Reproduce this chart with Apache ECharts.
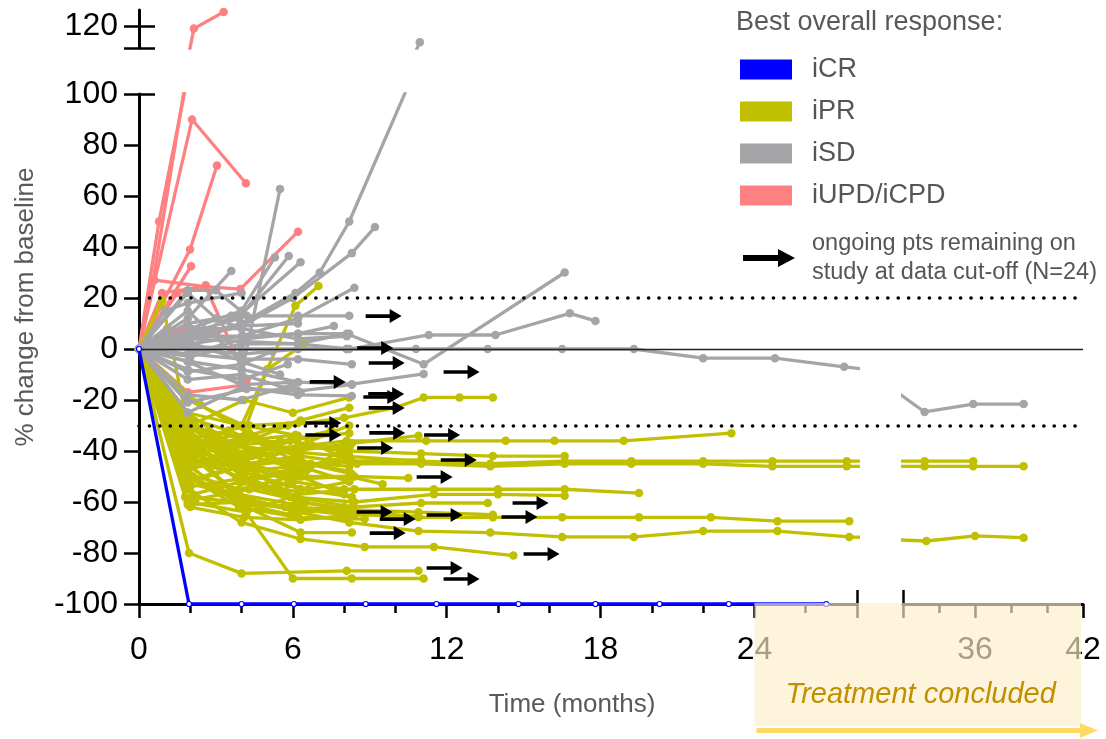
<!DOCTYPE html>
<html><head><meta charset="utf-8">
<script src="https://cdn.jsdelivr.net/npm/echarts@6/dist/echarts.min.js"></script>
<style>html,body{margin:0;padding:0;background:#fff}#c{width:1106px;height:739px}</style>
</head><body><div id="c"></div>
<script>
const SANS = "'Liberation Sans',Arial,sans-serif";

const categories = ['iCR', 'iPR', 'iSD', 'iUPD/iCPD'];
const ARROW_NAME = 'ongoing pts remaining on\nstudy at data cut-off (N=24)';
const xLabelsLeft = [0, 6, 12, 18, 24];
const xMajorLeft = [0, 6, 12, 18, 24, 28];
const xMinorLeft = [2, 4, 8, 10, 14, 16, 20, 22, 26];
const xLabelsRight = [36, 42];
const xMajorRight = [32, 36, 42];
const xMinorRight = [34, 38, 40];
const yTopLabels = [120];
const refDotted = [20, -30];

const iCR = [
  [[0,0],[1.95,-100],[4,-100],[6.04,-100],[8.84,-100],[11.6,-100],[14.8,-100],[17.8,-100],[20.3,-100],[23,-100],[26.8,-100]]
];
const iUPD = [
  [[0,0],[0.78,50],[2.14,119],[3.3,125.5]],
  [[0,0],[0.55,27],[1.85,107]],
  [[0,0],[2.07,90],[4.17,65]],
  [[0,0],[1.99,39],[3.04,72]],
  [[0,0],[2.03,32.5]],
  [[0,0],[0.6,27],[2.6,24.5],[3.95,23.5],[6.2,46]],
  [[0,0],[1.5,22],[2.6,25]],
  [[0,0],[1.9,8.5],[3.05,7]],
  [[0,0],[1.1,8],[2.0,5]],
  [[0,0],[0.9,22],[2.6,24.5],[4.2,-12]],
  [[0,0],[1.9,-17],[4.2,-14]],
  [[0,0],[1.8,-36]]
];
const iSD = [
  [[0,0],[2,5],[4,10],[6.1,22],[7.05,30],[8.2,50],[10.95,113.7]],
  [[0,0],[2,4],[4,9],[6,20],[8.3,37.6],[9.2,47.8]],
  [[0,0],[1.9,3],[4.1,-5],[5.5,62.7]],
  [[0,0],[1.9,12],[3.6,30.6]],
  [[0,0],[1.9,6],[3.9,12],[5.84,36.5]],
  [[0,0],[2,5],[4,14],[6.3,34]],
  [[0,0],[2,8],[4,15],[5.3,36]],
  [[0,0],[2,2],[4,5],[6.2,12],[8.4,24]],
  [[0,0],[1.9,10],[3.6,13],[6.2,13],[8.2,13]],
  [[0,0],[2,1],[4,0],[6.2,0],[8.1,0],[10.8,0],[13.6,0],[16.5,0],[19.3,0],[22,-3.6],[24.8,-3.6],[27.5,-7],[30.3,-10],[33.2,-24.7],[35.9,-21.6],[38.7,-21.6]],
  [[0,0],[2,-3],[4,2],[6.2,2],[8.1,6],[11.1,-6],[16.6,30]],
  [[0,0],[2,4],[4,3],[6.2,2],[8.2,0],[11.3,5.5],[13.9,5.5],[16.8,14],[17.8,11]],
  [[0,0],[2,-5],[4,-8],[6.2,-13],[8.3,-13.8],[11.1,-9.8]],
  [[0,0],[1.9,-25],[4,-15],[6.2,-18],[8.3,-18.4]],
  [[0,0],[1.9,-21],[4.2,-15.7],[6.2,-16.5],[8.3,-14]],
  [[0,0],[2,-2],[4,-4],[6.2,-4],[8.3,-6]],
  [[0,0],[2,8],[4,8],[6.2,4],[8.1,5]],
  [[0,0],[1.9,-12],[4,-10],[6.3,-17]],
  [[0,0],[1.9,15],[4,-5],[5.5,-10]],
  [[0,0],[1.9,22],[3.0,12],[4.0,8]],
  [[0,0],[1.9,-8],[4,-12],[5.8,-6]],
  [[0,0],[2,5],[4.1,5],[6.2,6],[8.2,6]],
  [[0,0],[1,15],[1.9,18],[4,22]],
  [[0,0],[2,0],[4,-2],[6.2,0],[8.1,0]],
  [[0,0],[1.9,-5],[4,-14],[6.2,-13]],
  [[0,0],[1.9,-18],[4,-20],[6,-14]],
  [[0,0],[1.9,23],[3.0,23],[4.2,13]],
  [[0,0],[1.9,4],[3.9,9],[6.2,10]],
  [[0,0],[1.9,-2],[4.1,4],[6.2,6],[7.6,9]],
  [[0,0],[1.9,-9],[4,-6],[5.2,-1]]
];
const iPR = [
  [[0,0],[1.95,-80],[4.0,-88],[8.1,-87],[10.9,-87]],
  [[0,0],[1.9,-45],[4.1,-63],[6.0,-90],[8.3,-90],[11.1,-90]],
  [[0,0],[1.9,-55],[4,-68],[6.3,-74.5],[8.8,-77.6],[11.5,-77.6],[14.6,-81]],
  [[0,0],[2.1,-50],[4.2,-62],[6.3,-72],[8.3,-72]],
  [[0,0],[1.9,-40],[4,-58],[6.2,-64],[8.2,-68],[10.9,-71.4],[13.7,-72],[16.5,-73.7],[19.3,-73.7],[22,-71.4],[24.9,-71.4],[27.7,-73.7],[33.3,-75.3],[36,-73.3],[38.7,-74]],
  [[0,0],[1.9,-38],[4,-52],[6.2,-60],[8.3,-63],[10.9,-66],[13.8,-66],[16.5,-66],[19.5,-66],[22.3,-66],[24.9,-67.5],[27.7,-67.5]],
  [[0,0],[1.8,-35],[4.1,-50],[6.1,-58],[8.3,-62],[11,-60.4],[13.6,-60.4]],
  [[0,0],[2.0,-30],[3.8,-45],[6.0,-52],[8.0,-55],[11.5,-55],[14,-55],[16.6,-55],[19.5,-56.5]],
  [[0,0],[1.7,-42],[3.9,-50],[5.9,-58],[8.4,-60],[11.5,-57],[14,-57],[16.6,-57.5]],
  [[0,0],[2.2,-30],[4.3,-40],[6.4,-38],[8.1,-36],[11.2,-36],[14.3,-36],[16.2,-36],[18.9,-36],[23.1,-33]],
  [[0,0],[1.9,-25],[3.7,-38],[5.6,-40],[8.0,-42],[11,-44],[13.7,-45],[16.6,-44],[19.2,-44],[22,-44],[24.7,-44],[27.6,-44],[33.2,-44],[35.9,-44]],
  [[0,0],[2.1,-35],[4.2,-45],[6.3,-42],[8.5,-45],[11,-45],[13.7,-46],[16.6,-45],[19.2,-45],[22,-45],[24.7,-46],[27.6,-46],[33.2,-46],[35.9,-46],[38.7,-46]],
  [[0,0],[1.8,-35],[3.8,-38],[5.8,-30],[8.0,-27],[10,-23],[11.1,-19],[12.5,-19],[13.8,-19]],
  [[0,0],[2.0,-30],[4.1,-20],[6.0,-25],[8.2,-19]],
  [[0,0],[1.9,-40],[3.9,-35],[6.3,-28],[8.2,-23]],
  [[0,0],[1.9,-25],[4,-30],[5,-8],[6.1,17],[7.0,24.7]],
  [[0,0],[1.9,-30],[4,-35],[5,-8],[6.45,2]],
  [[0,0],[0.9,19],[1.9,-30],[4,-45],[6,-50]],
  [[0,0],[2.3,-36],[4.4,-42],[6.5,-48],[8.2,-38]],
  [[0,0],[1.9,-49],[3.9,-55],[6.0,-50],[8.4,-50],[10.5,-50.6]],
  [[0,0],[2.0,-54],[4.5,-50],[6.6,-55],[8.2,-52]],
  [[0,0],[1.9,-61],[4.0,-60],[6.2,-62],[8.2,-64]],
  [[0,0],[2.0,-62],[4.1,-66],[6.3,-67],[8.4,-65],[10.9,-65.5]],
  [[0,0],[1.8,-45],[3.7,-58],[5.7,-62],[8.2,-63],[10.9,-64],[13.8,-65]],
  [[0,0],[2.2,-35],[4.3,-30],[6.2,-29]],
  [[0,0],[1.9,-40],[4.1,-36],[6.1,-33.7]],
  [[0,0],[1.7,-28],[3.6,-38],[5.5,-36],[8.2,-33]],
  [[0,0],[2.1,-30],[4.0,-42],[6.0,-40],[8.3,-37],[10.9,-34]],
  [[0,0],[1.9,-45],[4.2,-40],[6.3,-38],[8.2,-38.8]],
  [[0,0],[2.0,-38],[4.0,-48],[6.1,-46],[8.3,-44],[11,-43.5]],
  [[0,0],[1.9,-50],[3.9,-62],[6.2,-66],[8.8,-66.7]],
  [[0,0],[2.4,-22],[4.6,-35],[6.7,-45],[8.2,-48]],
  [[0,0],[1.9,-33],[4.0,-48],[6.3,-55],[8.3,-58]],
  [[0,0],[2.0,-40],[4.1,-52],[6.2,-56]],
  [[0,0],[1.8,-58],[3.8,-60],[5.9,-65],[8.0,-62]],
  [[0,0],[2.2,-44],[4.4,-40],[6.6,-47],[8.2,-52]],
  [[0,0],[1.9,-37],[4.3,-33],[6.2,-41]],
  [[0,0],[2.0,-52],[4.0,-46],[5.8,-44],[8.2,-46]],
  [[0,0],[1.6,-26],[3.5,-32],[5.4,-40]],
  [[0,0],[1.9,-60],[4.2,-64],[6.2,-57],[8.4,-55]],
  [[0,0],[2.1,-31],[4.0,-44],[6.0,-51],[8.2,-50],[9.5,-53]],
  [[0,0],[1.9,-47],[4.1,-43],[6.2,-35],[7.5,-32]],
  [[0,0],[2.0,-53],[3.9,-57],[6.1,-61]],
  [[0,0],[1.8,-35],[3.9,-60],[6.2,-63],[8.2,-65]],
  [[0,0],[2.0,-41],[4.0,-47],[6.2,-38],[8.2,-30]],
  [[0,0],[1.9,-40],[4,-44],[6.2,-38],[8.2,-40],[11,-41],[13.8,-42],[16.6,-42]],
  [[0,0],[1.9,-20],[4.1,-30],[6.2,-34],[8.2,-44]],
  [[0,0],[2.1,-57],[4.0,-52],[6.2,-48]],
  [[0,0],[1.9,-46],[3.9,-41],[5.9,-36],[7.9,-40]],
  [[0,0],[2.0,-34],[4.1,-46],[6.4,-60],[8.1,-63]],
  [[0,0],[1.7,-39],[3.7,-56],[5.8,-53]],
  [[0,0],[2.1,-51],[4.2,-45],[6.3,-50],[8.0,-57]],
  [[0,0],[1.9,-28],[4.0,-45],[6.1,-58]],
  [[0,0],[2.0,-43],[4.2,-34],[6.1,-44],[8.3,-49]],
  [[0,0],[1.8,-32],[3.9,-52],[6.0,-47],[8.2,-42]],
  [[0,0],[2.2,-59],[4.3,-55],[6.5,-60]]
];
const arrows = [
  [9.54,12.9],[9.21,0.4],[9.66,-5.5],[12.58,-9.0],[7.36,-12.9],[9.64,-17.6],[9.45,-18.8],[9.66,-23.1],
  [7.19,-29.0],[7.19,-33.7],[9.68,-32.9],[11.82,-33.7],[9.21,-38.8],[12.47,-43.5],[11.53,-50.2],[15.27,-60.4],
  [9.19,-63.9],[10.09,-66.7],[11.92,-65.1],[14.84,-65.9],[9.70,-72.2],[15.70,-80.4],[11.92,-85.9],[12.58,-90.2]
];

const COLORS = { 'iCR': '#0000FF', 'iPR': '#C0C000', 'iSD': '#A5A5A8', 'iUPD/iCPD': '#FF8080' };
const ARROW_PATH = 'path://M0,5.2L24,5.2L24,0L36,7L24,14L24,8.8L0,8.8Z';
const ARROW_LEG = 'path://M0,6L35,6L35,0L52,9L35,18L35,12L0,12Z';

const series = [];
function addGroup(list, cat, z) {
  list.forEach(pts => {
    const isCR = cat === 'iCR';
    const base = {
      type: 'line', name: cat, data: pts, symbol: 'circle', symbolSize: isCR ? 5 : 8.5,
      clip: true, z: z, silent: true, animation: false,
      lineStyle: { color: COLORS[cat], width: 3.3 },
      itemStyle: isCR ? { color: '#ffffff', borderColor: COLORS[cat], borderWidth: 1.2 } : { color: COLORS[cat] },
      emphasis: { disabled: true }
    };
    series.push(Object.assign({}, base, { xAxisIndex: 0, yAxisIndex: 0 }));
    if (pts.some(p => p[0] > 28)) series.push(Object.assign({}, base, { xAxisIndex: 3, yAxisIndex: 2 }));
    if (pts.some(p => p[1] > 100)) series.push(Object.assign({}, base, { xAxisIndex: 6, yAxisIndex: 3 }));
  });
}
addGroup(iUPD, 'iUPD/iCPD', 2);
addGroup(iPR, 'iPR', 3);
addGroup(iSD, 'iSD', 4);
addGroup(iCR, 'iCR', 5);

series.push({
  type: 'scatter', name: ARROW_NAME, xAxisIndex: 0, yAxisIndex: 0, data: arrows,
  symbol: ARROW_PATH, symbolSize: [36, 14], itemStyle: { color: '#000', opacity: 1 }, z: 6, silent: true, animation: false
});
series.push({
  type: 'line', xAxisIndex: 7, yAxisIndex: 5, data: [], z: 1, silent: true, animation: false,
  markLine: { symbol: 'none', silent: true, animation: false, label: { show: false },
    lineStyle: { color: '#222', width: 1.3, type: 'solid' }, data: [{ yAxis: 0 }] }
});
series.push({
  type: 'line', xAxisIndex: 7, yAxisIndex: 5, data: [], z: 8, silent: true, animation: false,
  markLine: { symbol: 'none', silent: true, animation: false, label: { show: false },
    lineStyle: { color: '#000', width: 3.6, type: [0.1, 10.3], cap: 'round' },
    data: refDotted.map(v => ({ yAxis: v })) }
});

const AX = { color: '#000', width: 3 };
const TK = { color: '#000', width: 2.5 };
const labelFont = { fontSize: 32, fontFamily: SANS, color: '#000' };
const nameFont = { fontSize: 26, fontFamily: SANS, color: '#595959' };
function hiddenX(grid, min, max) { return { type: 'value', gridIndex: grid, min, max, show: false, position: 'bottom' }; }

const option = {
  animation: false,
  backgroundColor: '#fff',
  title: { text: 'Best overall response:', left: 736, top: 9, padding: 0,
    textStyle: { fontSize: 27, fontWeight: 'normal', color: '#595959', fontFamily: SANS } },
  legend: [
    { left: 740, top: 56, orient: 'vertical', itemWidth: 52, itemHeight: 20, itemGap: 15, icon: 'rect',
      selectedMode: false, padding: 0,
      textStyle: { fontSize: 27, lineHeight: 27, fontFamily: SANS, color: '#555', padding: [0, 0, 0, 15] },
      data: categories.map(c => ({ name: c, itemStyle: { color: COLORS[c], borderWidth: 0 } })) },
    { left: 743, top: 229, orient: 'vertical', itemWidth: 52, itemHeight: 18, selectedMode: false, padding: 0,
      textStyle: { fontSize: 23.5, lineHeight: 29, fontFamily: SANS, color: '#555', padding: [0, 0, 0, 12] },
      data: [{ name: ARROW_NAME, icon: ARROW_LEG, itemStyle: { color: '#000', opacity: 1 } }] }
  ],
  grid: [
    { left: 139, top: 94, width: 718, height: 510 },
    { left: 903, top: 94, width: 180, height: 510 },
    { left: 139, top: 10, width: 718, height: 38 },
    { left: 139, top: 94, width: 944, height: 510 },
    { left: 139, top: 10, width: 866, height: 594 }
  ],
  xAxis: [
    { type: 'value', gridIndex: 0, min: 0, max: 28, position: 'bottom',
      axisLine: { show: true, onZero: false, lineStyle: AX },
      axisTick: { show: true, length: 14, lineStyle: TK, customValues: xMajorLeft },
      axisLabel: { show: true, margin: 30, customValues: xLabelsLeft, ...labelFont },
      splitLine: { show: false } },
    { type: 'value', gridIndex: 0, min: 0, max: 28, position: 'bottom',
      axisLine: { show: false, onZero: false },
      axisTick: { show: true, length: 9, lineStyle: TK, customValues: xMinorLeft },
      axisLabel: { show: false }, splitLine: { show: false } },
    { type: 'value', gridIndex: 0, min: 0, max: 28, position: 'bottom',
      axisLine: { show: false, onZero: false },
      axisTick: { show: true, inside: true, length: 14, lineStyle: TK, customValues: [28] },
      axisLabel: { show: false }, splitLine: { show: false } },
    { type: 'value', gridIndex: 1, min: 32, max: 42, position: 'bottom',
      axisLine: { show: true, onZero: false, lineStyle: AX },
      axisTick: { show: true, length: 14, lineStyle: TK, customValues: xMajorRight },
      axisLabel: { show: true, margin: 30, customValues: xLabelsRight, ...labelFont },
      splitLine: { show: false } },
    { type: 'value', gridIndex: 1, min: 32, max: 42, position: 'bottom',
      axisLine: { show: false, onZero: false },
      axisTick: { show: true, length: 9, lineStyle: TK, customValues: xMinorRight },
      axisLabel: { show: false }, splitLine: { show: false } },
    { type: 'value', gridIndex: 1, min: 32, max: 42, position: 'bottom',
      axisLine: { show: false, onZero: false },
      axisTick: { show: true, inside: true, length: 14, lineStyle: TK, customValues: [32] },
      axisLabel: { show: false }, splitLine: { show: false } },
    hiddenX(2, 0, 28),
    hiddenX(3, 0, 1),
    { type: 'value', gridIndex: 4, min: 0, max: 1, position: 'bottom',
      axisLine: { show: false, onZero: false }, axisTick: { show: false }, axisLabel: { show: false },
      splitLine: { show: false },
      name: 'Time (months)', nameLocation: 'middle', nameGap: 88, nameTextStyle: nameFont }
  ],
  yAxis: [
    { type: 'value', gridIndex: 0, min: -100, max: 100, interval: 20, position: 'left',
      axisLine: { show: true, onZero: false, lineStyle: AX },
      axisTick: { show: true, length: 15, lineStyle: TK },
      axisLabel: { show: true, margin: 21, ...labelFont },
      splitLine: { show: false } },
    { type: 'value', gridIndex: 0, min: -100, max: 100, position: 'left',
      axisLine: { show: false, onZero: false },
      axisTick: { show: true, inside: true, length: 16, lineStyle: TK, customValues: [100] },
      axisLabel: { show: false }, splitLine: { show: false } },
    { type: 'value', gridIndex: 1, min: -100, max: 100, show: false, position: 'left' },
    { type: 'value', gridIndex: 2, min: 111.4, max: 126.3, position: 'left',
      axisLine: { show: true, onZero: false, lineStyle: AX },
      axisTick: { show: true, length: 15, lineStyle: TK, customValues: [111.4, 120] },
      axisLabel: { show: true, margin: 21, customValues: yTopLabels, ...labelFont },
      splitLine: { show: false } },
    { type: 'value', gridIndex: 2, min: 111.4, max: 126.3, position: 'left',
      axisLine: { show: false, onZero: false },
      axisTick: { show: true, inside: true, length: 16, lineStyle: TK, customValues: [111.4, 120] },
      axisLabel: { show: false }, splitLine: { show: false } },
    { type: 'value', gridIndex: 3, min: -100, max: 100, show: false, position: 'left' },
    { type: 'value', gridIndex: 4, min: 0, max: 1, position: 'left',
      axisLine: { show: false, onZero: false }, axisTick: { show: false }, axisLabel: { show: false },
      splitLine: { show: false },
      name: '% change from baseline', nameLocation: 'middle', nameGap: 100, nameRotate: 90, nameTextStyle: nameFont }
  ],
  series: series
};

const chart = echarts.init(document.getElementById('c'), null, { renderer: 'canvas' });
chart.setOption(option);

// "Treatment concluded" annotation, anchored to data coordinates (24 months .. 42 months)
const pA = chart.convertToPixel({ xAxisIndex: 0, yAxisIndex: 0 }, [24, -100]);
const pB = chart.convertToPixel({ xAxisIndex: 3, yAxisIndex: 2 }, [42, -100]);
const yb = pA[1];
chart.setOption({
  graphic: [
    { type: 'rect', z: 100, silent: true,
      shape: { x: pA[0], y: yb - 1, width: pB[0] - pA[0] - 2, height: 123 },
      style: { fill: 'rgba(252,238,200,0.66)' } },
    { type: 'text', z: 101, silent: true,
      style: { text: 'Treatment concluded', x: (pA[0] + pB[0]) / 2 + 2, y: yb + 91,
        fill: '#BF9000', font: 'italic 29px ' + SANS, textAlign: 'center', textVerticalAlign: 'middle' } },
    { type: 'rect', z: 101, silent: true,
      shape: { x: pA[0] + 2, y: yb + 124, width: pB[0] - pA[0] - 4, height: 5 },
      style: { fill: '#FFD966' } },
    { type: 'polygon', z: 101, silent: true,
      shape: { points: [[pB[0] - 3, yb + 119], [pB[0] + 15, yb + 126.5], [pB[0] - 3, yb + 134]] },
      style: { fill: '#FFD966' } }
  ]
});
</script>
</body></html>
